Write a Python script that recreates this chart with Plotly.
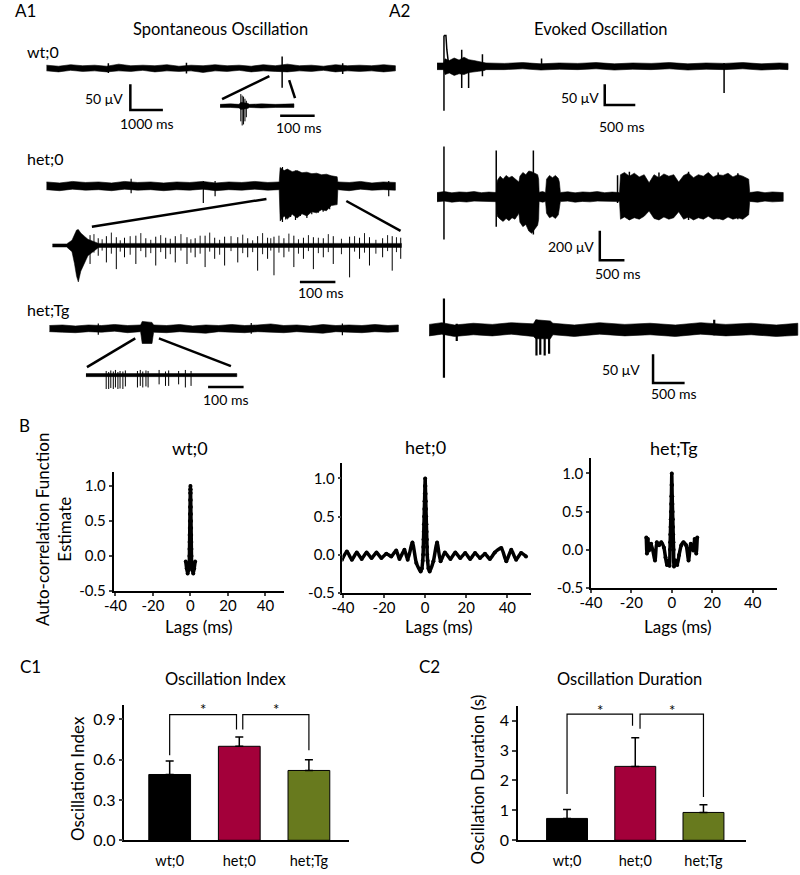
import plotly.graph_objects as go

W, H = 800, 875
FONT = "Lato"

# ================= DATA =================
# ---- A1 Spontaneous oscillation (time ms, voltage µV) ----
a1_wt_t = [0, 370, 740, 1110, 1480, 1850, 2220, 2590, 2960, 3330, 3700, 4070, 4440, 4810, 5180, 5550, 5920, 6290, 6660, 7030, 7400, 7770, 8140, 8510, 8880, 9250, 9620, 9990, 10360, 10720]
a1_wt_hi = [6, 4, 7, 5, 6, 4, 8, 5, 6, 5, 7, 4, 6, 5, 7, 5, 6, 4, 7, 5, 8, 5, 6, 4, 7, 5, 6, 5, 7, 5]
a1_wt_lo = [-5, -7, -4, -6, -5, -7, -5, -6, -4, -7, -5, -6, -5, -8, -5, -6, -4, -7, -5, -6, -7, -5, -6, -4, -7, -5, -6, -5, -7, -5]
a1_wt_spk_t = [1900, 4300, 7240, 9100]
a1_wt_spk_hi = [10, 11, 23, 10]
a1_wt_spk_lo = [-9, -10, -38, -11]

a1_wtz_t = [0, 30, 55, 60, 80, 85, 120, 160, 214]
a1_wtz_hi = [3, 4, 3, 7, 5, 3, 4, 3, 4]
a1_wtz_lo = [-3, -3, -4, -7, -5, -3, -4, -3, -3]
a1_wtz_spk_t = [60, 64, 68, 72, 76]
a1_wtz_spk_hi = [23, 20, 18, 14, 10]
a1_wtz_spk_lo = [-30, -38, -36, -30, -22]

a1_het_t = [0, 400, 800, 1200, 1600, 2000, 2400, 2800, 3200, 3600, 4000, 4400, 4800, 5200, 5600, 6000, 6400, 6800, 7150,
            7180, 7300, 7400, 7550, 7700, 7850, 8000, 8150, 8300, 8450, 8600, 8750, 8930,
            8950, 9300, 9650, 10000, 10350, 10720]
a1_het_hi = [8, 6, 9, 7, 8, 6, 9, 7, 8, 6, 8, 7, 9, 6, 8, 7, 9, 7, 8,
             36, 30, 33, 28, 30, 26, 27, 24, 25, 22, 23, 20, 18,
             8, 7, 9, 6, 8, 7]
a1_het_lo = [-7, -9, -6, -8, -7, -9, -6, -8, -7, -9, -7, -8, -6, -9, -7, -8, -6, -8, -7,
             -68, -58, -64, -55, -62, -54, -58, -50, -52, -46, -48, -38, -36,
             -7, -9, -6, -8, -7, -8]
a1_het_spk_t = [2600, 4818, 5180, 7250, 7350, 7500, 7650, 7800, 8000, 8150, 8350, 8500, 8700, 10515]
a1_het_spk_hi = [14, 10, 10, 37, 30, 28, 30, 26, 25, 24, 22, 20, 19, 10]
a1_het_spk_lo = [-14, -33, -20, -70, -65, -60, -66, -58, -62, -55, -52, -50, -45, -20]

a1_hetz_t = [0, 40, 55, 62, 68, 73, 80, 90, 100, 130, 983]
a1_hetz_hi = [3, 3, 10, 22, 30, 31, 24, 18, 12, 4, 4]
a1_hetz_lo = [-3, -3, -12, -35, -60, -71, -50, -35, -20, -4, -4]
a1_hetz_spk_t = [106, 129, 152, 180, 203, 235, 263, 291, 319, 346, 379, 402, 430, 457, 485, 522, 550, 578, 606, 624, 652, 680, 707, 735, 763, 791, 837, 865, 893, 930, 957, 981]
a1_hetz_spk_hi = [20, 14, 18, 16, 15, 19, 14, 17, 15, 18, 16, 14, 19, 15, 17, 16, 14, 18, 15, 17, 14, 19, 15, 16, 14, 18, 17, 15, 16, 14, 18, 15]
a1_hetz_spk_lo = [-36, -20, -33, -46, -23, -36, -23, -39, -26, -33, -36, -23, -42, -26, -39, -33, -23, -49, -26, -58, -23, -42, -26, -46, -23, -36, -62, -26, -39, -23, -49, -26]
a1_hetz_small_t = [117, 140, 166, 191, 219, 249, 277, 305, 332, 362, 390, 416, 443, 471, 503, 536, 564, 592, 615, 638, 666, 693, 721, 749, 777, 814, 851, 879, 911, 944, 969]
a1_hetz_small_hi = [22, 12, 25, 10, 18, 24, 11, 20, 13, 22, 12, 19, 25, 11, 18, 21, 10, 24, 14, 19, 23, 12, 20, 15, 22, 13, 18, 24, 11, 20, 16]
a1_hetz_small_lo = [-14, -10, -16, -12, -18, -11, -15, -13, -17, -10, -14, -16, -12, -18, -11, -15, -13, -17, -10, -14, -12, -16, -11, -15, -13, -17, -12, -14, -16, -11, -13]

a1_tg_t = [0, 400, 800, 1200, 1600, 2000, 2400, 2800, 2850, 3150, 3200, 3600, 4000, 4400, 4800, 5200, 5600, 6000, 6400, 6800, 7200, 7600, 8000, 8400, 8800, 9200, 9600, 10000, 10400, 10720]
a1_tg_hi = [6, 7, 5, 7, 6, 8, 6, 7, 14, 12, 7, 6, 8, 5, 7, 6, 8, 6, 7, 9, 6, 7, 5, 8, 6, 7, 6, 8, 6, 7]
a1_tg_lo = [-6, -7, -8, -6, -7, -5, -8, -6, -29, -29, -7, -8, -6, -7, -9, -6, -7, -8, -6, -7, -8, -6, -7, -9, -6, -7, -8, -6, -7, -6]
a1_tg_spk_t = [1500, 6200, 9000]
a1_tg_spk_hi = [10, 11, 10]
a1_tg_spk_lo = [-12, -10, -13]

a1_tgz_t = [0, 100, 200, 300, 425]
a1_tgz_hi = [3, 3, 3, 3, 3]
a1_tgz_lo = [-3, -3, -3, -3, -3]
a1_tgz_spk_t = [57, 64, 70, 77, 83, 90, 96, 104, 111, 145, 153, 160, 169, 175, 206, 224, 233, 261, 280, 296]
a1_tgz_spk_hi = [8, 6, 9, 7, 10, 6, 8, 7, 9, 8, 10, 7, 9, 8, 10, 7, 9, 8, 10, 8]
a1_tgz_spk_lo = [-27, -27, -25, -27, -24, -27, -26, -27, -22, -24, -21, -24, -22, -24, -18, -21, -21, -18, -24, -21]

# ---- A2 Evoked oscillation ----
a2_wt_t = [0, 110, 130, 200, 280, 360, 440, 520, 600, 680, 774, 800, 1100, 1400, 1700, 2000, 2300, 2600, 2900, 3200, 3500, 3800, 4100, 4400, 4700, 5000, 5300, 5600, 5740]
a2_wt_hi = [8, 8, 18, 14, 20, 15, 22, 16, 14, 12, 10, 8, 7, 9, 6, 8, 7, 9, 6, 8, 7, 9, 6, 8, 7, 9, 6, 8, 7]
a2_wt_lo = [-8, -8, -20, -16, -22, -18, -20, -15, -14, -12, -10, -8, -8, -6, -9, -7, -8, -6, -9, -7, -8, -6, -9, -7, -8, -6, -9, -7, -8]
a2_wt_spk_t = [113, 403, 516, 742, 1709, 4694]
a2_wt_spk_hi = [74, 40, 15, 29, 19, 8]
a2_wt_spk_lo = [-107, -52, -52, -24, -5, -64]
a2_wt_decay_t = [113, 145, 160, 180, 210]
a2_wt_decay_v = [74, 74, 40, 15, 5]

# het;0 evoked: baseline and burst envelope segments
a2_het_seg_t = [
    [0, 150, 300, 450, 600, 750, 900, 1050, 1200],
    [1220, 1280, 1340, 1400, 1460, 1520, 1580, 1660],
    [1680, 1740, 1800, 1860, 1920, 1980, 2040, 2060],
    [2070, 2140, 2200],
    [2220, 2280, 2340, 2400, 2460, 2480],
    [2500, 2650, 2800, 2950, 3100, 3250, 3400, 3550, 3700],
    [3720, 3800, 3900, 4000, 4100, 4200, 4300, 4400, 4500, 4600, 4700, 4800, 4900, 5000, 5100, 5200, 5300, 5400, 5500, 5600, 5700, 5800, 5900, 6000, 6100, 6200, 6320],
    [6340, 6500, 6650, 6800, 6950, 7020],
]
a2_het_seg_hi = [
    [30, 36, 28, 34, 31, 36, 29, 33, 30],
    [110, 140, 120, 145, 130, 140, 120, 100],
    [140, 165, 150, 175, 170, 160, 150, 120],
    [32, 36, 30],
    [120, 145, 130, 145, 125, 100],
    [30, 35, 28, 34, 31, 36, 29, 33, 30],
    [150, 165, 140, 160, 135, 150, 95, 150, 130, 155, 140, 150, 100, 145, 160, 130, 150, 140, 165, 135, 150, 145, 160, 135, 150, 140, 120],
    [30, 36, 29, 34, 31, 30],
]
a2_het_seg_lo = [
    [-32, -28, -35, -30, -34, -28, -33, -30, -32],
    [-130, -150, -165, -145, -160, -140, -150, -110],
    [-170, -200, -185, -230, -245, -215, -190, -150],
    [-30, -35, -31],
    [-110, -140, -130, -145, -120, -90],
    [-31, -28, -35, -30, -33, -28, -34, -30, -31],
    [-150, -135, -155, -140, -150, -130, -95, -145, -155, -135, -150, -140, -100, -150, -135, -155, -140, -150, -130, -150, -145, -155, -135, -150, -140, -150, -120],
    [-30, -35, -28, -33, -30, -29],
]
a2_het_spk_t = [140, 1200, 1953, 3660, 3900, 4500, 5100, 5700, 6100]
a2_het_spk_hi = [340, 313, 313, 147, 170, 165, 170, 165, 160]
a2_het_spk_lo = [-287, -200, -253, -40, -155, -150, -155, -150, -150]

a2_tg_t = [0, 200, 400, 700, 1000, 1300, 1650, 1690, 1920, 1960, 2300, 2700, 3100, 3500, 3900, 4300, 4700, 5100, 5500, 5840]
a2_tg_hi = [9, 12, 8, 11, 9, 12, 10, 17, 15, 11, 8, 12, 9, 11, 8, 12, 9, 11, 8, 11]
a2_tg_lo = [-11, -8, -12, -9, -11, -8, -12, -16, -16, -9, -12, -8, -11, -9, -12, -8, -11, -9, -12, -10]
a2_tg_spk_t = [234, 437, 1700, 1760, 1830, 1900, 4516]
a2_tg_spk_hi = [54, 10, 17, 15, 14, 12, 17]
a2_tg_spk_lo = [-84, -20, -45, -44, -45, -42, -10]

# ---- B autocorrelation (lag ms, ACF) ----
lag_ticks = [-40, -20, 0, 20, 40]
lag_ticktext = ["-40", "-20", "0", "20", "40"]
acf_ticks = [-0.5, 0.0, 0.5, 1.0]
acf_ticktext = ["-0.5", "0.0", "0.5", "1.0"]

acf_wt_lag = [-2.5, -2.0, -1.5, -1.0, -0.6, -0.55, -0.5, -0.45, -0.4, -0.35, -0.3, -0.25, -0.2, -0.15, -0.1, -0.05, 0,
              0.05, 0.1, 0.15, 0.2, 0.25, 0.3, 0.35, 0.4, 0.45, 0.5, 0.55, 0.6, 1.0, 1.5, 2.0, 2.5]
acf_wt_val = [-0.08, -0.18, -0.25, -0.2, -0.1, 0.0, 0.1, 0.2, 0.3, 0.4, 0.5, 0.6, 0.7, 0.8, 0.9, 0.95, 1.0,
              0.95, 0.9, 0.8, 0.7, 0.6, 0.5, 0.4, 0.3, 0.2, 0.1, 0.0, -0.1, -0.2, -0.25, -0.18, -0.08]

acf_het_lag = [-40.5, -38.1, -35.7, -33.3, -30.9, -28.5, -26.1, -23.7, -21.3, -18.9, -16.5, -14.1, -12.5, -10.1, -8.5, -6.2, -4.3,
               -2.2, -1.6, -1.2, -1.0, -0.9, -0.8, -0.7, -0.6, -0.5, -0.4, -0.3, -0.2, -0.1, 0,
               0.1, 0.2, 0.3, 0.4, 0.5, 0.6, 0.7, 0.8, 0.9, 1.0, 1.2, 1.6, 2.2,
               4.0, 5.8, 7.5, 9.6, 12.3, 14.7, 17.1, 19.5, 21.9, 24.3, 26.7, 29.1, 31.5, 33.9, 37.1, 39.5, 41.9, 44.3, 46.7, 49.1]
acf_het_val = [-0.065, 0.043, -0.065, 0.030, -0.056, 0.030, -0.043, 0.030, -0.043, 0.013, -0.022, 0.056, -0.056, 0.065, -0.065, 0.161, -0.109,
               -0.22, -0.18, -0.08, 0.0, 0.1, 0.2, 0.3, 0.4, 0.5, 0.6, 0.7, 0.8, 0.9, 1.0,
               0.9, 0.8, 0.7, 0.6, 0.5, 0.4, 0.3, 0.2, 0.1, 0.0, -0.08, -0.18, -0.22,
               -0.087, 0.161, -0.087, 0.030, -0.056, 0.030, -0.043, 0.022, -0.056, 0.022, -0.043, 0.013, -0.056, 0.030, 0.087, -0.087, 0.065, -0.065, 0.022, -0.022]

acf_tg_lag = [-12.6, -12.3, -11.8, -11.3, -10.2, -8.3, -7.4, -6.3, -5.2, -3.9, -3.1, -2.4, -1.6, -1.1,
              -0.9, -0.8, -0.7, -0.6, -0.5, -0.4, -0.3, -0.2, -0.1, 0, 0.1, 0.2, 0.3, 0.4, 0.5, 0.6, 0.7, 0.8, 0.9,
              1.1, 1.9, 2.7, 3.6, 4.7, 5.8, 7.1, 8.3, 9.4, 10.6, 11.3, 12.1, 12.6]
acf_tg_val = [0.16, -0.05, 0.14, -0.01, 0.08, -0.14, 0.10, 0.06, 0.10, 0.03, -0.10, -0.20, -0.14, -0.21,
              0.0, 0.1, 0.2, 0.3, 0.4, 0.5, 0.6, 0.7, 0.85, 1.0, 0.85, 0.7, 0.6, 0.5, 0.4, 0.3, 0.2, 0.1, 0.0,
              -0.22, -0.14, -0.20, -0.07, 0.06, 0.10, 0.06, -0.14, 0.08, -0.01, 0.14, -0.05, 0.16]

# ---- C bar charts ----
groups = ["wt;0", "het;0", "het;Tg"]
bar_colors = ["#000000", "#a3003a", "#687a1e"]
osc_index_mean = [0.49, 0.70, 0.52]
osc_index_sem = [0.10, 0.07, 0.08]
osc_dur_mean = [0.73, 2.47, 0.93]
osc_dur_sem = [0.30, 0.96, 0.26]
# significance brackets: [x_left, x_right, y_left_end, y_right_end, y_top]
c1_brackets = [[0.0, 0.96, 0.634, 0.825, 0.936], [1.05, 2.0, 0.825, 0.67, 0.936]]
c2_brackets = [[0.0, 0.96, 1.55, 3.83, 4.22], [1.07, 2.0, 3.73, 1.45, 4.22]]

# ================= FIGURE =================
fig = go.Figure()
layout = dict(width=W, height=H, margin=dict(l=0, r=0, t=0, b=0, pad=0),
              paper_bgcolor="white", plot_bgcolor="rgba(0,0,0,0)", showlegend=False,
              font=dict(family=FONT, color="black"))
annotations = []


def names(i):
    if i == 1:
        return "xaxis", "yaxis", "x", "y"
    return f"xaxis{i}", f"yaxis{i}", f"x{i}", f"y{i}"


def trace_axes(i, box, origin, scale):
    X0, X1, Y0, Y1 = box
    ox, oy = origin
    sx, sy = scale
    xa, ya, xr, yr = names(i)
    layout[xa] = dict(domain=[X0 / W, X1 / W], range=[(X0 - ox) / sx, (X1 - ox) / sx],
                      visible=False, anchor=yr, fixedrange=True)
    layout[ya] = dict(domain=[1 - Y1 / H, 1 - Y0 / H], range=[(oy - Y1) / sy, (oy - Y0) / sy],
                      visible=False, anchor=xr, fixedrange=True)
    return xr, yr


def band(ax, t, hi, lo, w=0.6):
    fig.add_trace(go.Scatter(x=list(t) + list(t)[::-1], y=list(hi) + list(lo)[::-1],
                             fill="toself", fillcolor="black", mode="lines",
                             line=dict(color="black", width=w), xaxis=ax[0], yaxis=ax[1],
                             hoverinfo="skip"))


def spikes(ax, t, hi, lo, w=1.2):
    xs, ys = [], []
    for a, b, c in zip(t, hi, lo):
        xs += [a, a, None]
        ys += [b, c, None]
    fig.add_trace(go.Scatter(x=xs, y=ys, mode="lines", line=dict(color="black", width=w),
                             xaxis=ax[0], yaxis=ax[1], hoverinfo="skip"))


def polyline(ax, x, y, w=2.5):
    fig.add_trace(go.Scatter(x=x, y=y, mode="lines", line=dict(color="black", width=w),
                             xaxis=ax[0], yaxis=ax[1], hoverinfo="skip"))


def scalebar(ax, t0, v0, dt, dv=None, w=2.5):
    if dv is None:
        polyline(ax, [t0, t0 + dt], [v0, v0], w)
    else:
        polyline(ax, [t0, t0, t0 + dt], [v0 + dv, v0, v0], w)


def text(ax, s, x, y, size, xanchor="center", yanchor="middle", angle=0):
    annotations.append(dict(text=s, x=x, y=y, xref=ax[0], yref=ax[1], showarrow=False,
                            font=dict(size=size, family=FONT, color="black"),
                            xanchor=xanchor, yanchor=yanchor, textangle=angle, borderpad=0))


PAPER = ("paper", "paper")


def ptext(s, px, py, size, xanchor="center", angle=0):
    text(PAPER, s, px / W, 1 - py / H, size, xanchor=xanchor, angle=angle)


def flat(segs):
    out = []
    for s in segs:
        out += s
    return out


# ---- A1 ----
ax1 = trace_axes(1, (30, 400, 35, 140), (36, 69), (0.033, 0.52))
band(ax1, a1_wt_t, a1_wt_hi, a1_wt_lo)
spikes(ax1, a1_wt_spk_t, a1_wt_spk_hi, a1_wt_spk_lo, 1.5)
polyline(ax1, [5394, 6848], [-60, -15])
polyline(ax1, [7455, 7636], [-23, -58])
scalebar(ax1, 2576, -81, 1000, 50)
text(ax1, "50 μV", 2394, -58, 14, xanchor="right")
text(ax1, "1000 ms", 3076, -108, 14)

ax2 = trace_axes(2, (205, 320, 90, 140), (212, 107), (0.35, 0.52))
band(ax2, a1_wtz_t, a1_wtz_hi, a1_wtz_lo, 0.5)
spikes(ax2, a1_wtz_spk_t, a1_wtz_spk_hi, a1_wtz_spk_lo, 1.0)
scalebar(ax2, 174, -19, 100)
text(ax2, "100 ms", 230, -42, 14)

ax3 = trace_axes(3, (30, 400, 160, 240), (36, 188), (0.033, 0.52))
band(ax3, a1_het_t, a1_het_hi, a1_het_lo)
spikes(ax3, a1_het_spk_t, a1_het_spk_hi, a1_het_spk_lo, 1.2)
polyline(ax3, [1394, 6758], [-79, -25])
polyline(ax3, [9212, 10879], [-29, -87])

ax4 = trace_axes(4, (38, 400, 225, 305), (42, 248), (0.36, 0.52))
band(ax4, a1_hetz_t, a1_hetz_hi, a1_hetz_lo, 0.5)
spikes(ax4, a1_hetz_spk_t, a1_hetz_spk_hi, a1_hetz_spk_lo, 1.0)
spikes(ax4, a1_hetz_small_t, a1_hetz_small_hi, a1_hetz_small_lo, 0.9)
scalebar(ax4, 697, -71, 100)
text(ax4, "100 ms", 756, -92, 14)

ax5 = trace_axes(5, (30, 400, 315, 380), (39, 332), (0.033, 0.52))
band(ax5, a1_tg_t, a1_tg_hi, a1_tg_lo)
spikes(ax5, a1_tg_spk_t, a1_tg_spk_hi, a1_tg_spk_lo, 1.2)
polyline(ax5, [1152, 2636], [-75, -19])
polyline(ax5, [3364, 5576], [-19, -73])

ax6 = trace_axes(6, (70, 245, 365, 412), (76, 379), (0.36, 0.52))
band(ax6, a1_tgz_t, a1_tgz_hi, a1_tgz_lo, 0.5)
spikes(ax6, a1_tgz_spk_t, a1_tgz_spk_hi, a1_tgz_spk_lo, 1.0)
scalebar(ax6, 344, -23, 100)
text(ax6, "100 ms", 394, -48, 14)

# ---- A2 ----
ax7 = trace_axes(7, (425, 795, 30, 140), (432, 67), (0.062, 0.42))
band(ax7, a2_wt_t, a2_wt_hi, a2_wt_lo)
spikes(ax7, a2_wt_spk_t, a2_wt_spk_hi, a2_wt_spk_lo, 1.5)
polyline(ax7, a2_wt_decay_t, a2_wt_decay_v, 1.5)
scalebar(ax7, 2742, -93, 500, 50)
text(ax7, "50 μV", 2661, -76, 14, xanchor="right")
text(ax7, "500 ms", 3032, -145, 14)

ax8 = trace_axes(8, (425, 795, 140, 285), (432, 199), (0.05, 0.15))
band(ax8, flat(a2_het_seg_t), flat(a2_het_seg_hi), flat(a2_het_seg_lo))
spikes(ax8, a2_het_spk_t, a2_het_spk_hi, a2_het_spk_lo, 1.5)
scalebar(ax8, 3300, -427, 500, 200)
text(ax8, "200 μV", 3200, -333, 14, xanchor="right")
text(ax8, "500 ms", 3660, -513, 14)

ax9 = trace_axes(9, (415, 799, 295, 410), (424, 333), (0.064, 0.58))
band(ax9, a2_tg_t, a2_tg_hi, a2_tg_lo)
spikes(ax9, a2_tg_spk_t, a2_tg_spk_hi, a2_tg_spk_lo, 2.2)
scalebar(ax9, 3547, -93, 500, 50)
text(ax9, "50 μV", 3359, -69, 14, xanchor="right")
text(ax9, "500 ms", 3875, -112, 14)


# ---- B ----
def acf_axes(i, xpx, ypx, xrange, yrange):
    xa, ya, xr, yr = names(i)
    layout[xa] = dict(domain=[xpx[0] / W, xpx[1] / W], range=xrange, anchor=yr,
                      tickvals=lag_ticks, ticktext=lag_ticktext, ticks="outside", ticklen=3, tickwidth=1.5,
                      showline=True, linewidth=1.5, linecolor="black", showgrid=False, zeroline=False,
                      tickfont=dict(size=15, family=FONT), ticklabelstandoff=-3, fixedrange=True)
    layout[ya] = dict(domain=[1 - ypx[1] / H, 1 - ypx[0] / H], range=yrange, anchor=xr,
                      tickvals=acf_ticks, ticktext=acf_ticktext, ticks="outside", ticklen=3,
                      tickwidth=1.5, showline=True, linewidth=1.5, linecolor="black", showgrid=False,
                      zeroline=False, tickfont=dict(size=15, family=FONT), fixedrange=True)
    return xr, yr


def acf_plot(ax, lag, val):
    fig.add_trace(go.Scatter(x=lag, y=val, mode="lines+markers",
                             line=dict(color="black", width=3.5, shape="spline", smoothing=0.6),
                             marker=dict(color="black", size=4),
                             xaxis=ax[0], yaxis=ax[1], hoverinfo="skip"))


bx1 = acf_axes(10, (104, 277), (477, 597), [-41, 50], [-0.5, 1.2])
acf_plot(bx1, acf_wt_lag, acf_wt_val)
bx2 = acf_axes(11, (336, 527), (468, 599), [-40.3, 51.4], [-0.5, 1.2])
acf_plot(bx2, acf_het_lag, acf_het_val)
bx3 = acf_axes(12, (588, 777), (463, 594), [-40, 52.2], [-0.5, 1.2])
acf_plot(bx3, acf_tg_lag, acf_tg_val)


# ---- C ----
def bar_axes(i, xpx, ypx, xrange, yrange, yticks, yfmt):
    xa, ya, xr, yr = names(i)
    layout[xa] = dict(domain=[xpx[0] / W, xpx[1] / W], range=xrange, anchor=yr,
                      tickvals=[0, 1, 2], ticktext=groups, ticks="", showline=True, linewidth=1.5,
                      linecolor="black", showgrid=False, zeroline=False, ticklabelstandoff=7,
                      tickfont=dict(size=14.5, family=FONT), fixedrange=True)
    layout[ya] = dict(domain=[1 - ypx[1] / H, 1 - ypx[0] / H], range=yrange, anchor=xr,
                      tickvals=yticks, tickformat=yfmt, ticks="outside", ticklen=4, tickwidth=1.5,
                      showline=True, linewidth=1.5, linecolor="black", showgrid=False, zeroline=False,
                      tickfont=dict(size=16, family=FONT), fixedrange=True)
    return xr, yr


def bars(ax, mean, sem, brackets, star_y):
    fig.add_trace(go.Bar(x=[0, 1, 2], y=mean, width=0.6, marker=dict(color=bar_colors,
                         line=dict(color="black", width=1)),
                         error_y=dict(type="data", array=sem, arrayminus=[0, 0, 0], symmetric=False,
                                      color="black", thickness=1.5, width=4),
                         xaxis=ax[0], yaxis=ax[1], hoverinfo="skip"))
    for xl, xr_, yl, yr_, yt in brackets:
        polyline(ax, [xl, xl, xr_, xr_], [yl, yt, yt, yr_], 1.2)
        text(ax, "*", (xl + xr_) / 2, star_y, 15)


cx1 = bar_axes(13, (115, 343), (712, 849), [-0.65, 2.58], [0, 1.01], [0, 0.3, 0.6, 0.9], ".1f")
bars(cx1, osc_index_mean, osc_index_sem, c1_brackets, 0.975)
cx2 = bar_axes(14, (514, 745), (713, 849), [-0.72, 2.62], [0, 4.5], [0, 1, 2, 3, 4], "d")
bars(cx2, osc_dur_mean, osc_dur_sem, c2_brackets, 4.35)

# ---- text labels ----
ptext("A1", 3, 11, 17, xanchor="left")
ptext("A2", 382, 11, 17, xanchor="left")
ptext("Spontaneous Oscillation", 212, 29, 16.5)
ptext("Evoked Oscillation", 598, 29, 16.5)
ptext("wt;0", 15, 52, 16, xanchor="left")
ptext("het;0", 15, 160, 16, xanchor="left")
ptext("het;Tg", 15, 313, 16, xanchor="left")
ptext("B", 7, 430, 17, xanchor="left")
ptext("wt;0", 182, 453, 18)
ptext("het;0", 420, 452, 18)
ptext("het;Tg", 672, 453, 18)
ptext("Lags (ms)", 191, 633, 17)
ptext("Lags (ms)", 434, 633, 17)
ptext("Lags (ms)", 676, 633, 17)
ptext("Auto-correlation Function<br>Estimate", 43, 535, 17, angle=-90)
ptext("C1", 8, 673, 17, xanchor="left")
ptext("C2", 413, 673, 17, xanchor="left")
ptext("Oscillation Index", 217, 686, 16.5)
ptext("Oscillation Duration", 627, 686, 16.5)
ptext("Oscillation Index", 68, 787, 17, angle=-90)
ptext("Oscillation Duration (s)", 473, 787, 17, angle=-90)

layout["annotations"] = annotations
fig.update_layout(**layout)
fig.write_html("out.html", config={"displayModeBar": False},
               post_script="document.body.style.margin='0';document.body.style.overflow='hidden';")
